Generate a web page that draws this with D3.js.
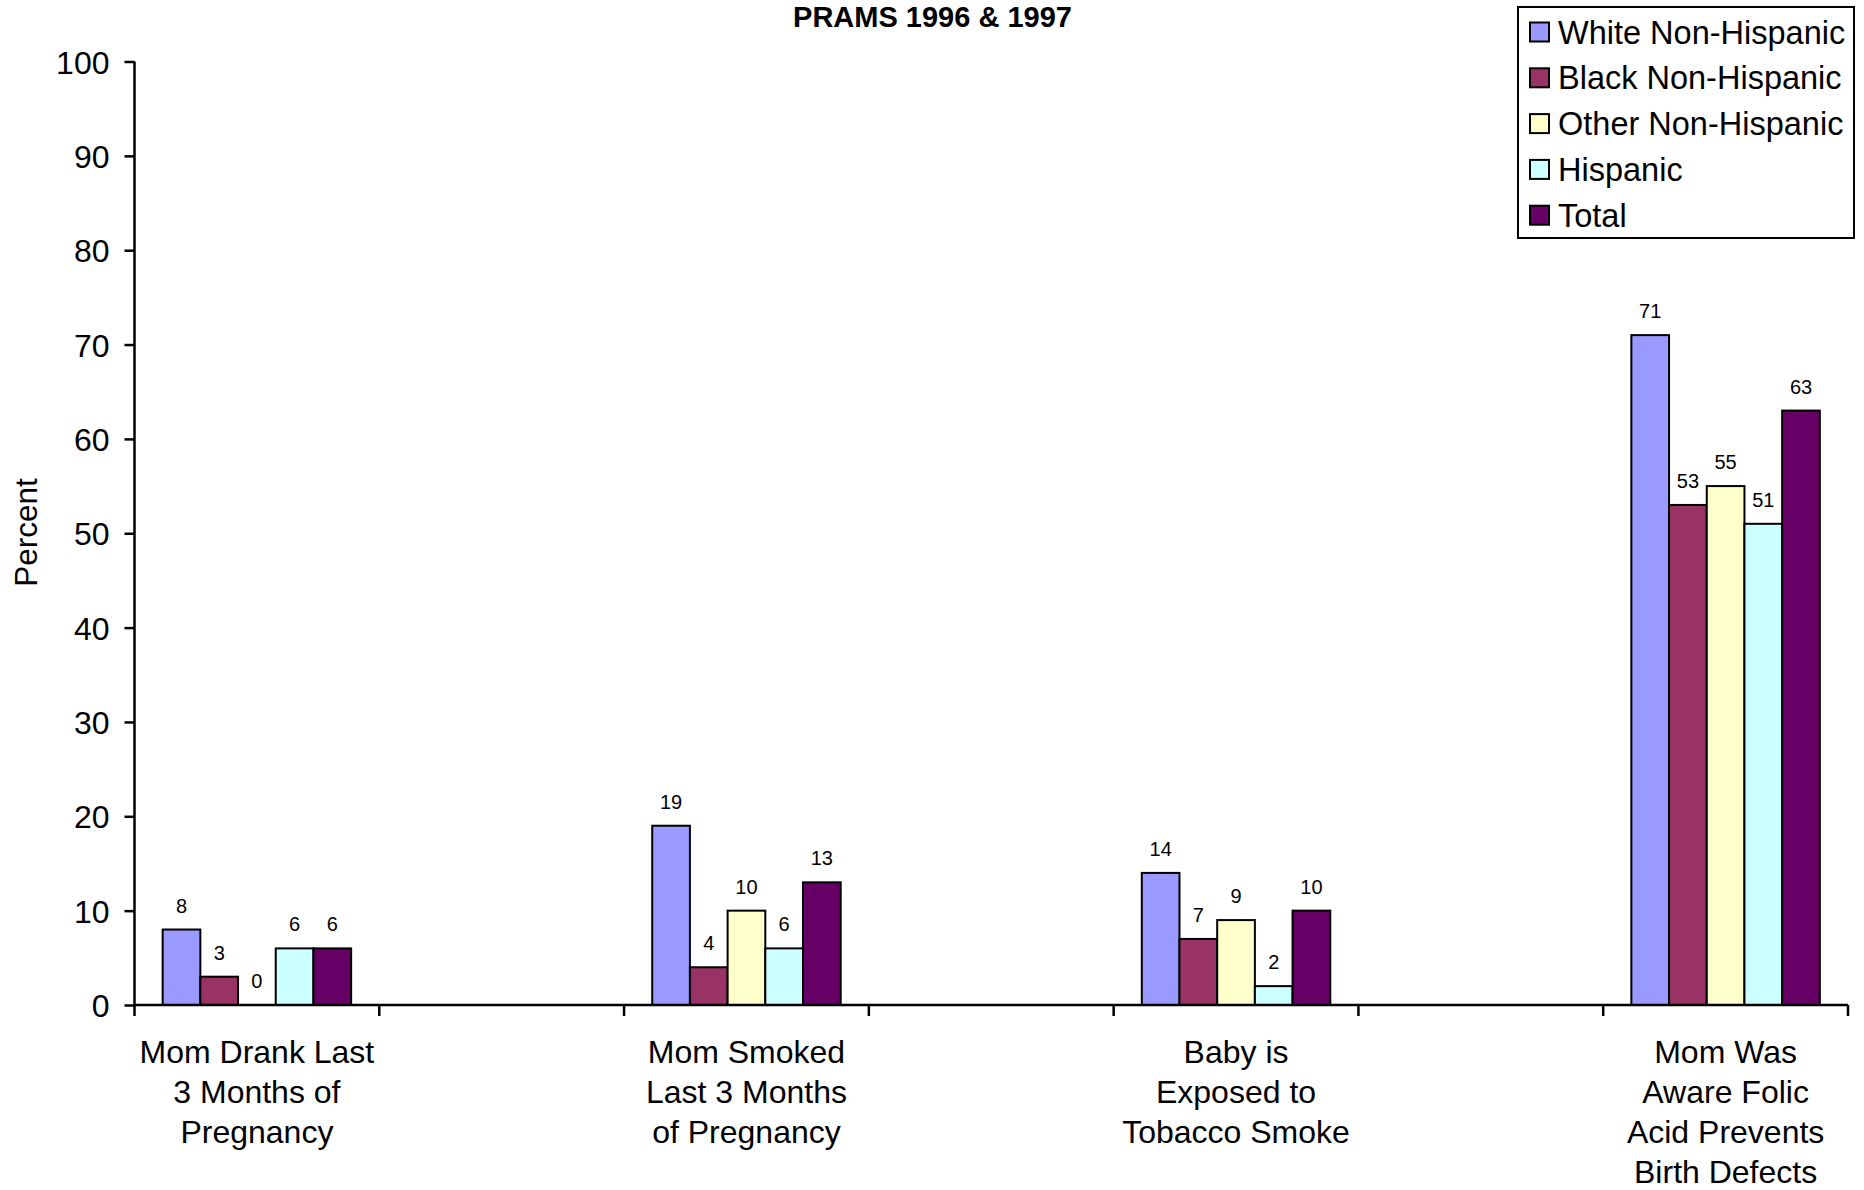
<!DOCTYPE html>
<html>
<head>
<meta charset="utf-8">
<script src="https://cdn.jsdelivr.net/npm/d3@7"></script>
<style>
  html, body { margin: 0; padding: 0; background: #fff; }
  svg { display: block; font-family: "Liberation Sans", Arial, sans-serif; }
</style>
</head>
<body>
<svg id="chart" width="1864" height="1190"></svg>
<script>
const title = "PRAMS 1996 & 1997";
const yLabel = "Percent";
const categories = [
  ["Mom Drank Last", "3 Months of", "Pregnancy"],
  ["Mom Smoked", "Last 3 Months", "of Pregnancy"],
  ["Baby is", "Exposed to", "Tobacco Smoke"],
  ["Mom Was", "Aware Folic", "Acid Prevents", "Birth Defects"]
];
const seriesNames = ["White Non-Hispanic", "Black Non-Hispanic", "Other Non-Hispanic", "Hispanic", "Total"];
const seriesColors = ["#9999FF", "#993366", "#FFFFCC", "#CCFFFF", "#660066"];
const whiteNH = [8, 19, 14, 71];
const blackNH = [3, 4, 7, 53];
const otherNH = [0, 10, 9, 55];
const hispanic = [6, 6, 2, 51];
const total = [6, 13, 10, 63];
const yTicks = [0, 10, 20, 30, 40, 50, 60, 70, 80, 90, 100];

const seriesValues = [whiteNH, blackNH, otherNH, hispanic, total];

const svg = d3.select("#chart");
const plotLeft = 134.5, plotRight = 1848, plotTop = 61.5, plotBottom = 1005;

// Slots: categories interleaved with empty spacer slots
const slots = [];
categories.forEach((c, i) => {
  slots.push("c" + i);
  if (i < categories.length - 1) slots.push("gap" + i);
});

const x = d3.scaleBand().domain(slots).range([plotLeft, plotRight]).paddingInner(0).paddingOuter(0);
const y = d3.scaleLinear().domain([0, 100]).range([plotBottom, plotTop]);
const groupW = x.bandwidth() * 0.77;
const xs = d3.scaleBand().domain(seriesNames).range([-groupW / 2, groupW / 2]).padding(0);

// Title
svg.append("text")
  .attr("x", 932.5).attr("y", 27)
  .attr("text-anchor", "middle")
  .attr("font-weight", "bold")
  .attr("font-size", 29)
  .text(title);

// Y label
svg.append("text")
  .attr("transform", "translate(37,532.5) rotate(-90)")
  .attr("text-anchor", "middle")
  .attr("font-size", 31.5)
  .text(yLabel);

// Bars
const gBars = svg.append("g");
categories.forEach((c, ci) => {
  const cx = x("c" + ci) + x.bandwidth() / 2;
  seriesNames.forEach((s, si) => {
    const v = seriesValues[si][ci];
    const bx = cx + xs(s);
    if (v > 0) {
      gBars.append("rect")
        .attr("x", bx).attr("y", y(v))
        .attr("width", xs.bandwidth())
        .attr("height", y(0) - y(v))
        .attr("fill", seriesColors[si])
        .attr("stroke", "#000")
        .attr("stroke-width", 2);
    }
    gBars.append("text")
      .attr("x", bx + xs.bandwidth() / 2)
      .attr("y", y(v) - 17)
      .attr("text-anchor", "middle")
      .attr("font-size", 20)
      .text(v);
  });
});

// Y axis
const yAxis = svg.append("g")
  .attr("transform", `translate(${plotLeft},0)`)
  .call(d3.axisLeft(y).tickValues(yTicks).tickSize(10).tickPadding(15));
yAxis.select(".domain").attr("stroke-width", 2.5).attr("d", `M-0,${plotTop}V${plotBottom}`);
yAxis.selectAll(".tick line").attr("stroke-width", 2.5);
yAxis.selectAll(".tick text").attr("font-size", 32).attr("font-family", "'Liberation Sans', Arial, sans-serif").attr("fill", "#000").attr("dy", "0.36em");

// X axis
const xAxis = svg.append("g")
  .attr("transform", `translate(0,${plotBottom})`);
xAxis.append("line")
  .attr("x1", plotLeft).attr("x2", plotRight).attr("y1", 0).attr("y2", 0)
  .attr("stroke", "#000").attr("stroke-width", 2.5);
const boundaries = slots.map(s => x(s)).concat([plotRight]);
xAxis.selectAll("line.tick").data(boundaries).enter().append("line")
  .attr("class", "tick")
  .attr("x1", d => d).attr("x2", d => d)
  .attr("y1", 0).attr("y2", 11)
  .attr("stroke", "#000").attr("stroke-width", 2.5);

// Category labels
categories.forEach((lines, ci) => {
  const cx = x("c" + ci) + x.bandwidth() / 2;
  const t = svg.append("text")
    .attr("text-anchor", "middle")
    .attr("font-size", 32);
  lines.forEach((ln, li) => {
    t.append("tspan").attr("x", cx).attr("y", 1063 + li * 40).text(ln);
  });
});

// Legend
const lg = svg.append("g");
lg.append("rect")
  .attr("x", 1518).attr("y", 7).attr("width", 336).attr("height", 231)
  .attr("fill", "#fff").attr("stroke", "#000").attr("stroke-width", 2);
seriesNames.forEach((s, i) => {
  const cy = 32.5 + i * 45.8;
  lg.append("rect")
    .attr("x", 1530).attr("y", cy - 10).attr("width", 19).attr("height", 19)
    .attr("fill", seriesColors[i]).attr("stroke", "#000").attr("stroke-width", 2);
  lg.append("text")
    .attr("x", 1558).attr("y", cy + 11)
    .attr("font-size", 32.5)
    .text(s);
});
</script>
</body>
</html>
